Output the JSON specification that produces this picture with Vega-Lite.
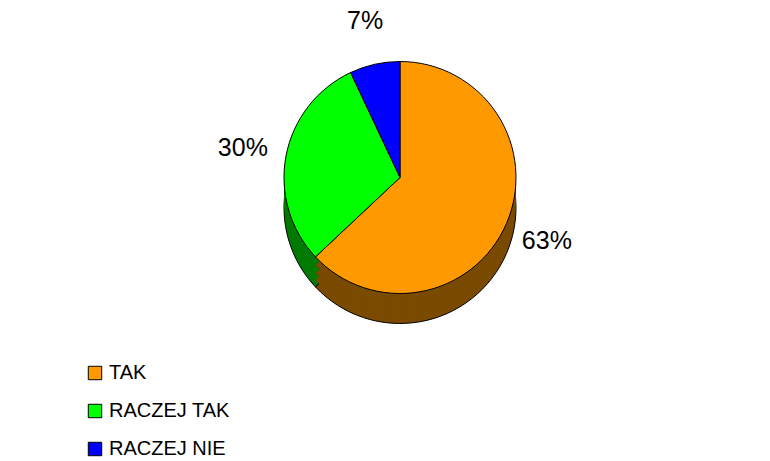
{
  "$schema": "https://vega.github.io/schema/vega-lite/v6.json",
  "width": 770,
  "height": 461,
  "autosize": {"type": "fit", "contains": "padding"},
  "padding": {"left": 30, "right": 0, "top": 14, "bottom": 120},
  "background": "white",
  "config": {"view": {"stroke": null}, "font": "Liberation Sans"},
  "data": {
    "values": [
      {"category": "TAK", "value": 63, "idx": 1, "label": "63%"},
      {"category": "RACZEJ TAK", "value": 30, "idx": 2, "label": "30%"},
      {"category": "RACZEJ NIE", "value": 7, "idx": 3, "label": "7%"}
    ]
  },
  "encoding": {
    "theta": {"field": "value", "type": "quantitative", "stack": true},
    "order": {"field": "idx", "type": "quantitative"}
  },
  "layer": [
    {
      "mark": {"type": "arc", "outerRadius": 116, "yOffset": 30, "stroke": "black", "strokeWidth": 1},
      "encoding": {"color": {"field": "category", "type": "nominal", "scale": {"domain": ["TAK", "RACZEJ TAK", "RACZEJ NIE"], "range": ["#7A4A00", "#007A00", "#00007A"]}, "legend": null}}
    },
    {
      "mark": {"type": "arc", "outerRadius": 116, "yOffset": 23},
      "encoding": {"color": {"field": "category", "type": "nominal", "scale": {"domain": ["TAK", "RACZEJ TAK", "RACZEJ NIE"], "range": ["#7A4A00", "#007A00", "#00007A"]}, "legend": null}}
    },
    {
      "mark": {"type": "arc", "outerRadius": 116, "yOffset": 16},
      "encoding": {"color": {"field": "category", "type": "nominal", "scale": {"domain": ["TAK", "RACZEJ TAK", "RACZEJ NIE"], "range": ["#7A4A00", "#007A00", "#00007A"]}, "legend": null}}
    },
    {
      "mark": {"type": "arc", "outerRadius": 116, "yOffset": 8},
      "encoding": {"color": {"field": "category", "type": "nominal", "scale": {"domain": ["TAK", "RACZEJ TAK", "RACZEJ NIE"], "range": ["#7A4A00", "#007A00", "#00007A"]}, "legend": null}}
    },
    {
      "mark": {"type": "arc", "outerRadius": 116, "stroke": "black", "strokeWidth": 1},
      "encoding": {"color": {"field": "category", "type": "nominal", "scale": {"domain": ["TAK", "RACZEJ TAK", "RACZEJ NIE"], "range": ["#FF9900", "#00FF00", "#0000FF"]},
        "legend": {"title": null, "orient": "none", "legendX": 55, "legendY": 349, "symbolType": "square", "symbolSize": 180, "symbolStrokeColor": "black", "symbolStrokeWidth": 1, "labelFontSize": 20, "labelFont": "Liberation Sans", "labelColor": "black", "rowPadding": 18, "symbolOpacity": 1}}}
    },
    {
      "mark": {"type": "text", "radius": 160, "fontSize": 25, "font": "Liberation Sans", "color": "black"},
      "encoding": {"text": {"field": "label"}}
    }
  ],
  "resolve": {"scale": {"color": "independent"}}
}
